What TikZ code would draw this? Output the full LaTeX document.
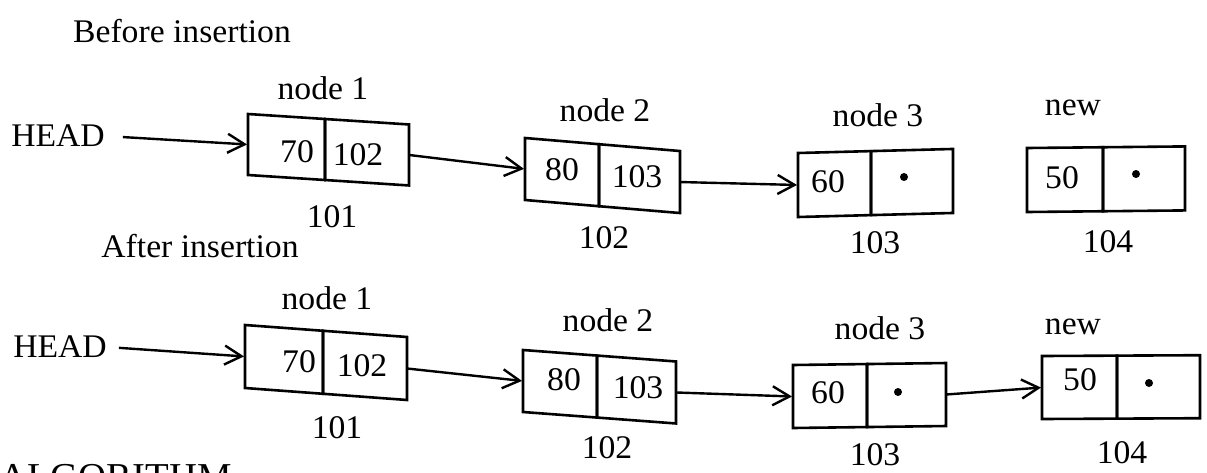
\documentclass[tikz,border=0pt]{standalone}
\usepackage{fontspec}
\setmainfont{Liberation Serif}[FakeStretch=1.02]
\usetikzlibrary{arrows.meta}

% one list node: a data cell and a pointer cell, sheared by #4
% #1 name, #2 x, #3 y (left edge middle), #4 slant, #5 height, #6 data width, #7 pointer width
\newcommand\listcell[7]{%
  \begin{scope}[shift={(#2,#3)}, yslant=#4]
    \node[cell, minimum height=#5, minimum width=#6] (#1d) at (0,0) {};
    \node[cell, minimum height=#5, minimum width=#7] (#1p) at (#6,0) {};
  \end{scope}}

\begin{document}
\begin{tikzpicture}[x=1pt, y=-1pt,
  txt/.style={inner sep=0pt, font=\fontsize{33}{38}\selectfont},
  big/.style={inner sep=0pt, font=\fontsize{38}{44}\selectfont},
  cell/.style={draw, line width=2.6pt, inner sep=0pt, outer sep=0pt, anchor=west, transform shape},
  dot/.style={circle, fill, inner sep=0pt, minimum size=8},
  link/.style={line width=2.4pt, -{Straight Barb[length=17pt, width=19pt]}, shorten >=1pt}]
\useasboundingbox (0,0) rectangle (1207,472);
\clip (0,0) rectangle (1207,472);
\fill[white] (0,0) rectangle (1207,472);

% ---------- before insertion ----------
\node[txt] (title1) at (182,31) {Before insertion};
\node[txt] (head1) at (58,136) {HEAD};

\listcell{a1}{248}{144.5}{-0.065}{61}{77}{84}
\listcell{a2}{525}{169}{-0.084}{62}{74}{81}
\listcell{a3}{798}{185}{0.026}{64}{73}{82}
\listcell{a4}{1027}{180}{0.01}{64}{76}{82}

\node[txt] (a1v) at (297,152) {70};
\node[txt] (a1n) at (358,155) {102};
\node[txt] (a2v) at (562,170) {80};
\node[txt] (a2n) at (637,177) {103};
\node[txt] (a3v) at (828,182) {60};
\node[dot] (a3n) at (904,177) {};
\node[txt] (a4v) at (1062,178) {50};
\node[dot] (a4n) at (1136,174) {};

\node[txt] (a1t) at (323,88) {node 1};
\node[txt] (a2t) at (605,110) {node 2};
\node[txt] (a3t) at (878,115) {node 3};
\node[txt] (a4t) at (1073,108) {new};

\node[txt] (a1b) at (332,217) {101};
\node[txt] (a2b) at (604,238) {102};
\node[txt] (a3b) at (875,243) {103};
\node[txt] (a4b) at (1108,242) {104};

\draw[link, shorten <=18pt] (head1.east) -- (a1d.west);
\draw[link] (a1p.east) -- (a2d.west);
\draw[link] (a2p.east) -- (a3d.west);

% ---------- after insertion ----------
\node[txt] (title2) at (200,246) {After insertion};
\node[txt] (head2) at (60,347) {HEAD};

\listcell{b1}{245}{356.5}{-0.074}{63}{78}{84}
\listcell{b2}{523}{381}{-0.075}{62}{74}{79}
\listcell{b3}{793}{396.5}{0.013}{63}{74}{79}
\listcell{b4}{1042}{387.5}{0.005}{63}{75}{83}

\node[txt] (b1v) at (299,362) {70};
\node[txt] (b1n) at (362,366) {102};
\node[txt] (b2v) at (564,380) {80};
\node[txt] (b2n) at (638,388) {103};
\node[txt] (b3v) at (828,393) {60};
\node[dot] (b3n) at (898,392) {};
\node[txt] (b4v) at (1080,380) {50};
\node[dot] (b4n) at (1149,383) {};

\node[txt] (b1t) at (327,298) {node 1};
\node[txt] (b2t) at (608,320) {node 2};
\node[txt] (b3t) at (880,328) {node 3};
\node[txt] (b4t) at (1073,327) {new};

\node[txt] (b1b) at (337,428) {101};
\node[txt] (b2b) at (607,448) {102};
\node[txt] (b3b) at (875,455) {103};
\node[txt] (b4b) at (1122,453) {104};

\draw[link, shorten <=12pt] (head2.east) -- (b1d.west);
\draw[link] (b1p.east) -- (b2d.west);
\draw[link] (b2p.east) -- (b3d.west);
\draw[link] (b3p.east) -- (b4d.west);

% heading that continues below
\node[big, anchor=base west] (alg) at (-1,489) {ALGORITHM};
\end{tikzpicture}
\end{document}
